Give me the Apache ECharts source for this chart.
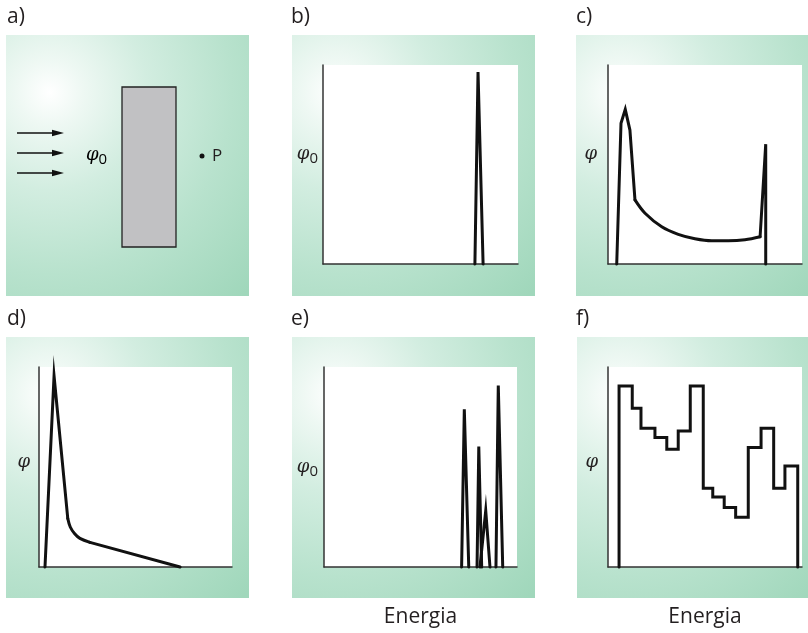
<!DOCTYPE html>
<html>
<head>
<meta charset="utf-8">
<script src="https://cdn.jsdelivr.net/npm/echarts@6/dist/echarts.min.js"></script>
<style>
html,body{margin:0;padding:0;background:#fff;}
#chart{width:808px;height:633px;}
</style>
</head>
<body>
<div id="chart"></div>
<script>
// ---- data (x: energy 0-100, y: flux 0-100) ----
const panelLabels = ['a)', 'b)', 'c)', 'd)', 'e)', 'f)'];
const xAxisTitle = 'Energia';

// b) monoenergetic source flux
const bX = [77.9, 79.5, 82.1];
const bY = [0, 96.5, 0];

// c) spectrum at P (peak, slowing-down continuum, uncollided line)
const cPeakX = [4.5, 6.7, 8.9, 11.3, 13.9];
const cPeakY = [0, 70.7, 77.7, 67.3, 32.2];
const cCurveX = [13.9, 19.1, 27.7, 36.2, 44.8, 53.5, 62.0, 70.6, 78.4];
const cCurveY = [32.2, 25.5, 18.7, 14.9, 12.7, 11.7, 11.7, 12.2, 13.7];
const cEdgeX = [78.4, 81.3, 81.3];
const cEdgeY = [13.7, 60.2, 0];

// d)
const dPeakX = [3.1, 7.8, 14.9];
const dPeakY = [0, 95.5, 24.3];
const dKneeX = [14.9, 16.2, 18.5, 21.2, 26.4];
const dKneeY = [24.3, 20.0, 16.6, 14.3, 12.3];
const dTailX = [26.4, 73.1];
const dTailY = [12.3, 0];

// e) line spectrum
const eSpikes = [
  { x: [71.3, 72.7, 75.0], y: [0, 78.9, 0] },
  { x: [79.3, 80.2, 81.7], y: [0, 60.2, 0] },
  { x: [80.8, 83.8, 86.0], y: [0, 28.2, 0] },
  { x: [89.1, 90.3, 92.6], y: [0, 90.7, 0] }
];

// f) group (histogram) spectrum
const fEdges = [5.7, 12.5, 17.0, 24.2, 30.3, 36.2, 42.4, 49.1, 54.0, 59.9, 65.8, 72.3, 78.9, 85.4, 91.2, 97.8];
const fValues = [90.5, 79.4, 69.4, 64.7, 58.9, 68.0, 90.5, 39.4, 35.0, 29.7, 24.9, 59.7, 69.4, 39.4, 50.5];

// ---- helpers ----
const zip = (xs, ys) => xs.map((x, i) => [x, ys[i]]);
function histPath(edges, vals) {
  const pts = [[edges[0], 0]];
  vals.forEach((v, i) => { pts.push([edges[i], v]); pts.push([edges[i + 1], v]); });
  pts.push([edges[edges.length - 1], 0]);
  return pts;
}

const TXT = '#231f20';
const FONT = '"Open Sans", "Liberation Sans", sans-serif';
const bgFill = {
  type: 'radial', x: 0.18, y: 0.22, r: 1.15,
  colorStops: [
    { offset: 0, color: '#ffffff' },
    { offset: 0.12, color: '#eef8f3' },
    { offset: 0.35, color: '#d2ede0' },
    { offset: 0.65, color: '#b8e2cd' },
    { offset: 1, color: '#a0d7bb' }
  ]
};

const grids = [
  { left: 323, top: 65, width: 195, height: 199 },   // b
  { left: 608, top: 65, width: 194, height: 199 },   // c
  { left: 39, top: 367, width: 193, height: 200 },   // d
  { left: 324, top: 367, width: 193, height: 200 },  // e
  { left: 608, top: 367, width: 194, height: 200 }   // f
].map(g => Object.assign({ show: true, backgroundColor: '#ffffff', borderWidth: 0, containLabel: false }, g));

const yNames = ['phi0', 'phi', 'phi', 'phi0', 'phi'];
const yGaps = [5, 11, 9, 6, 10];
const yShift = [20, 20, 10, 0, 10];
const rich = {
  p: { fontFamily: '"DejaVu Serif", serif', fontStyle: 'italic', fontSize: 18, color: TXT },
  s: { fontFamily: FONT, fontSize: 15, color: TXT, padding: [9, 0, 0, 0] }
};

const axisLine = { show: true, onZero: false, lineStyle: { color: '#333333', width: 1.5 } };
const xAxes = grids.map((g, i) => ({
  type: 'value', gridIndex: i, min: 0, max: 100,
  axisLine: axisLine, axisTick: { show: false }, axisLabel: { show: false }, splitLine: { show: false },
  name: (i >= 3) ? xAxisTitle : '', nameLocation: 'middle', nameGap: 40,
  nameTextStyle: { fontFamily: FONT, fontSize: 21, color: TXT }
}));
const yAxes = grids.map((g, i) => ({
  type: 'value', gridIndex: i, min: 0, max: 100,
  axisLine: axisLine, axisTick: { show: false }, axisLabel: { show: false }, splitLine: { show: false },
  name: yNames[i] === 'phi0' ? '{p|φ}{s|0}' : '{p|φ}',
  nameLocation: 'middle', nameRotate: 0, nameGap: yGaps[i],
  nameTextStyle: { rich: rich, padding: [0, 0, yShift[i], 0] }
}));

function line(idx, data, smooth) {
  return {
    type: 'line', xAxisIndex: idx, yAxisIndex: idx, data: data, smooth: smooth ? 0.35 : false,
    symbol: 'none', silent: true, animation: false, clip: false,
    lineStyle: { color: '#111111', width: 3, join: 'miter', miterLimit: 30, cap: 'round' }
  };
}

const series = [
  line(0, zip(bX, bY)),
  line(1, zip(cPeakX, cPeakY)),
  line(1, zip(cCurveX, cCurveY), true),
  line(1, zip(cEdgeX, cEdgeY)),
  line(2, zip(dPeakX, dPeakY)),
  line(2, zip(dKneeX, dKneeY), true),
  line(2, zip(dTailX, dTailY)),
  ...eSpikes.map(s => line(3, zip(s.x, s.y))),
  line(4, histPath(fEdges, fValues))
];

// ---- panel backgrounds, labels and the schematic of panel a ----
const panels = [[6, 35], [292, 35], [576, 35], [6, 337], [292, 337], [577, 337]];
const labelPos = [[7, 17], [291, 17], [576, 17], [7, 319], [291, 319], [576, 319]];
const elements = [];
panels.forEach(p => elements.push({ type: 'rect', z: -100, silent: true,
  shape: { x: p[0], y: p[1], width: 243, height: 261 }, style: { fill: bgFill } }));
labelPos.forEach((p, i) => elements.push({ type: 'text', z: 10, x: p[0], y: p[1],
  style: { text: panelLabels[i], font: '21px ' + FONT, fill: TXT, verticalAlign: 'middle' } }));
// panel a
elements.push({ type: 'rect', z: 10, shape: { x: 122, y: 87, width: 54, height: 160 },
  style: { fill: '#c1c1c3', stroke: '#222222', lineWidth: 1.3 } });
[133, 153, 173].forEach(y => {
  elements.push({ type: 'line', z: 10, shape: { x1: 17, y1: y, x2: 55, y2: y }, style: { stroke: '#111', lineWidth: 1.4 } });
  elements.push({ type: 'polygon', z: 10, shape: { points: [[52, y - 3.2], [64, y], [52, y + 3.2]] }, style: { fill: '#111' } });
});
elements.push({ type: 'text', z: 10, x: 86, y: 155, style: {
  text: '{p|φ}{s|0}', rich: rich, verticalAlign: 'middle' } });
elements.push({ type: 'circle', z: 10, shape: { cx: 202, cy: 156, r: 2.5 }, style: { fill: '#111' } });
elements.push({ type: 'text', z: 10, x: 212, y: 156, style: {
  text: 'P', font: '17px ' + FONT, fill: TXT, verticalAlign: 'middle' } });

const chart = echarts.init(document.getElementById('chart'), null, { renderer: 'canvas' });
chart.setOption({
  animation: false,
  backgroundColor: '#ffffff',
  grid: grids, xAxis: xAxes, yAxis: yAxes, series: series,
  graphic: { elements: elements }
});
</script>
</body>
</html>
